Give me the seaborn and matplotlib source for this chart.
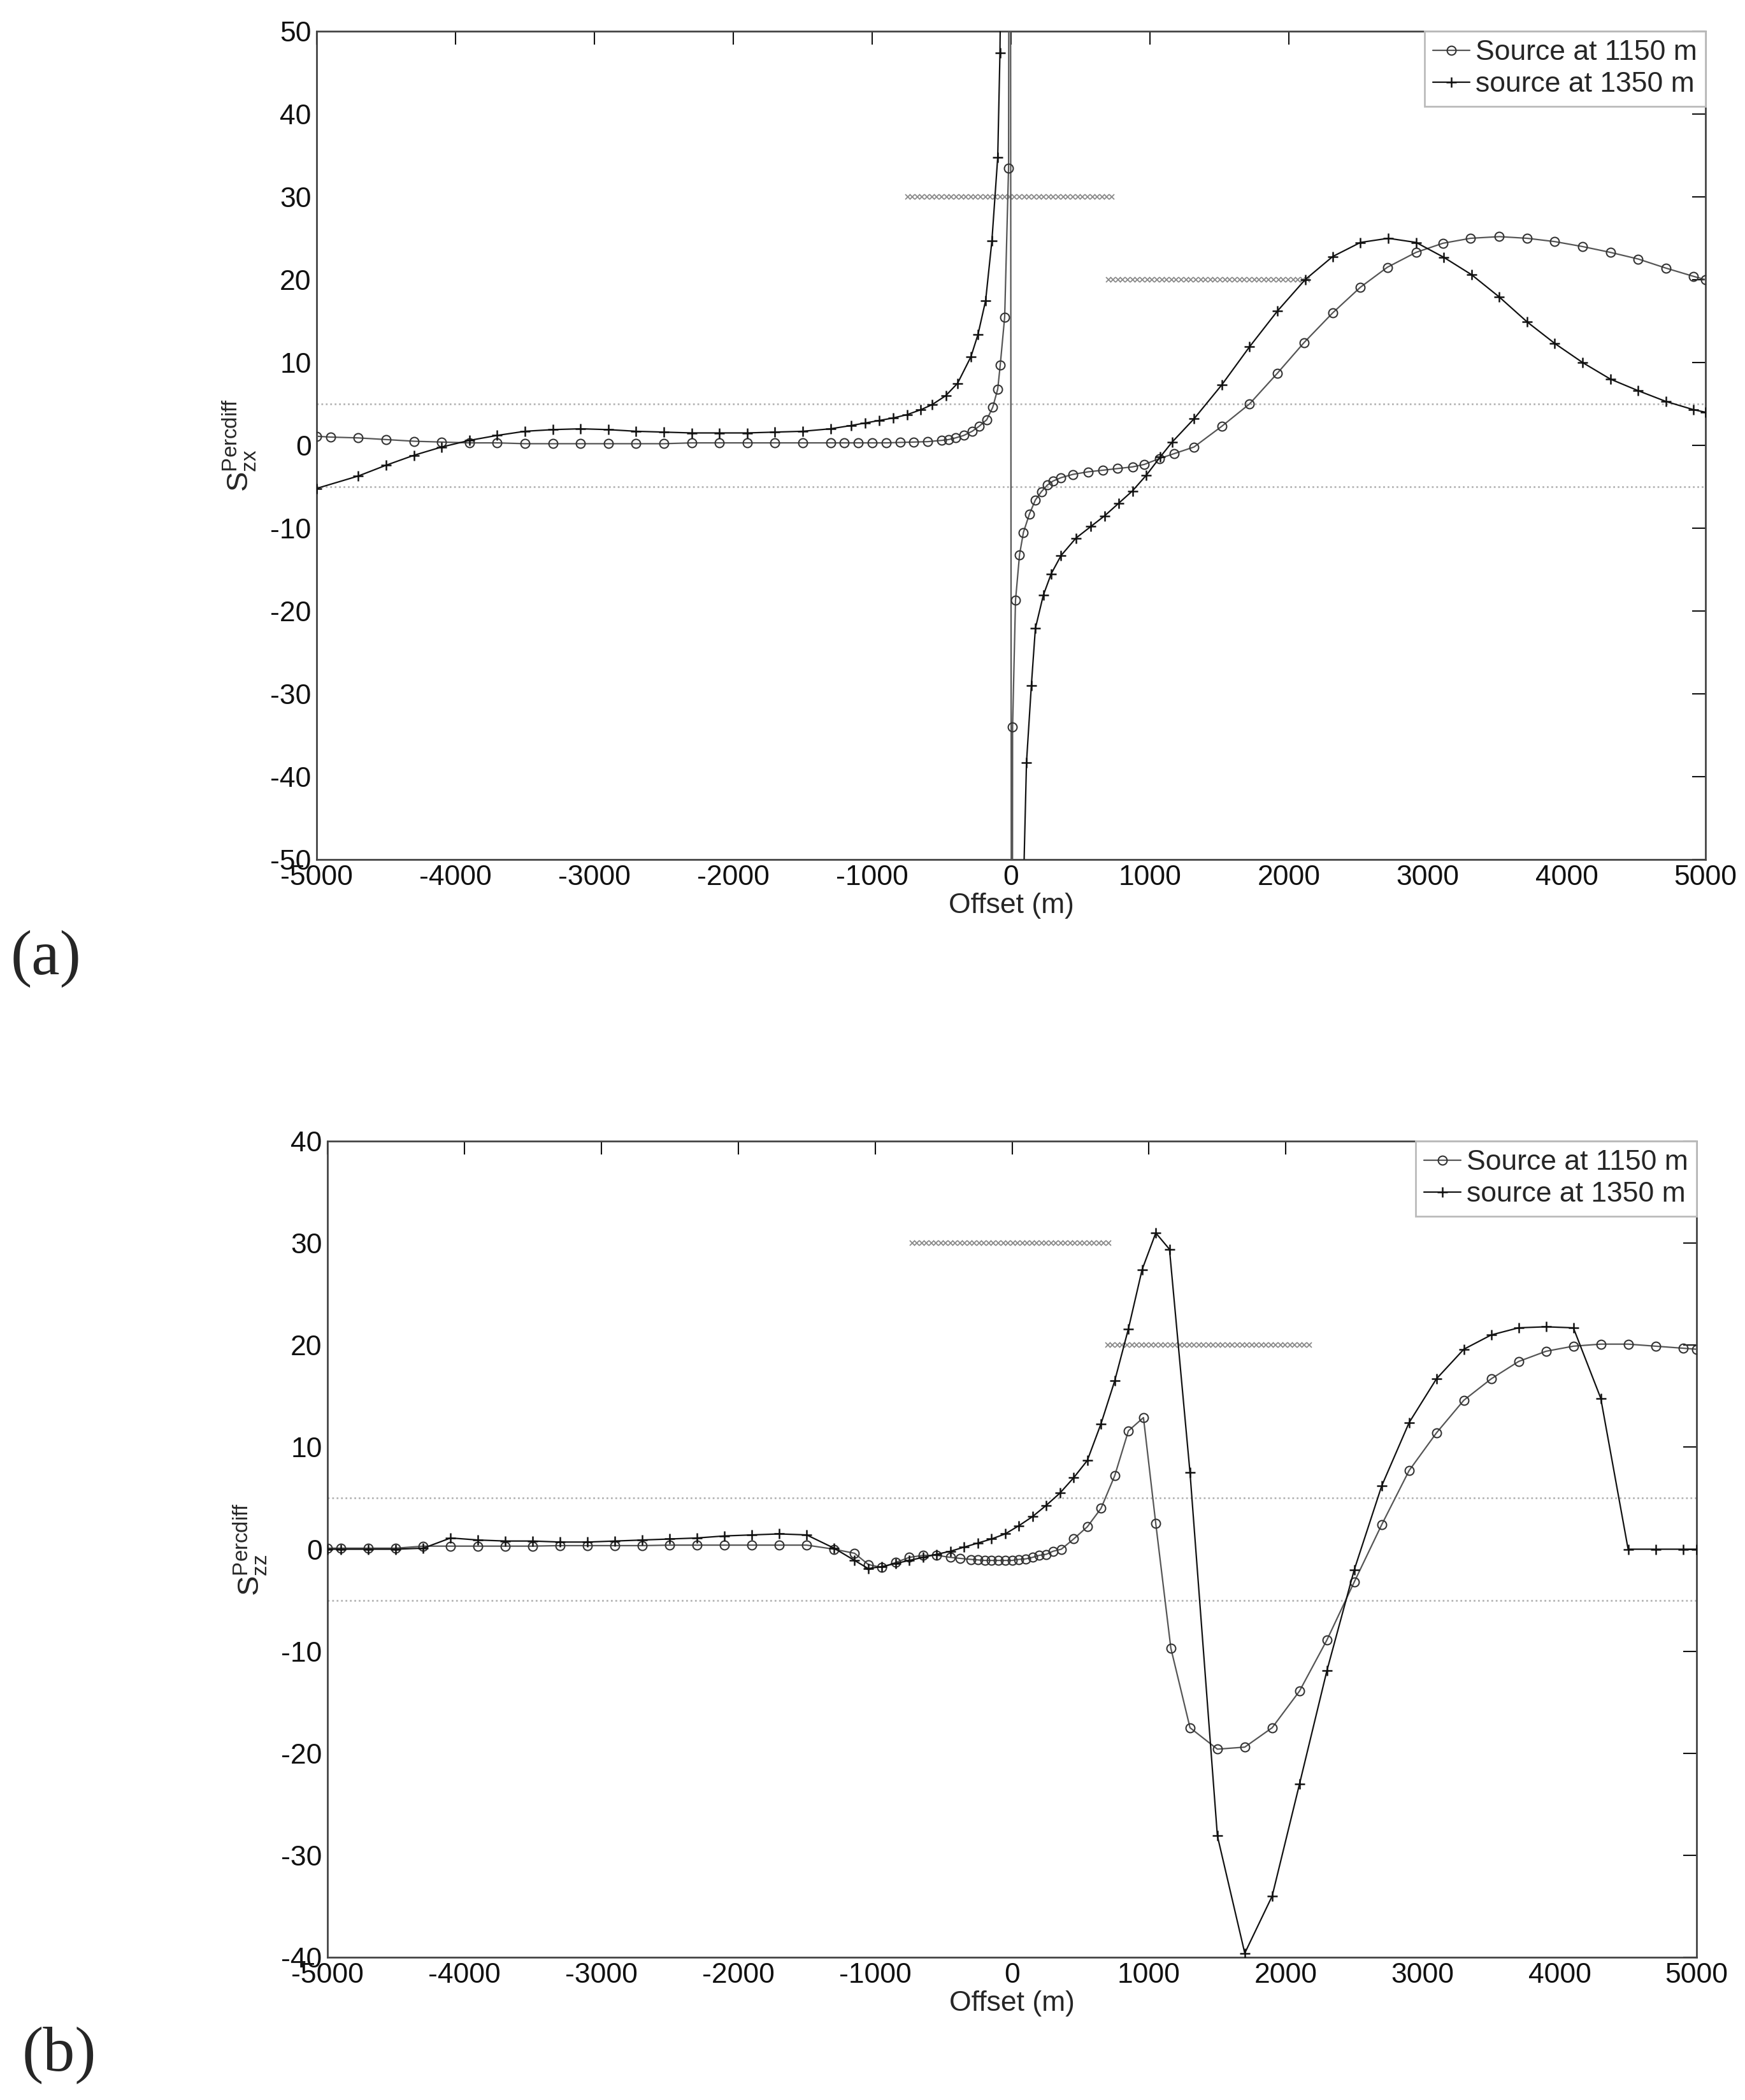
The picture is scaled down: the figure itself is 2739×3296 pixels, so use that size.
import numpy as np
import pandas as pd
import matplotlib
matplotlib.use("Agg")
import matplotlib.pyplot as plt
import seaborn as sns

# ---- data ----
# panel (a): S_zx percent difference
a_x_1150 = [-5000, -4900, -4700, -4500, -4300, -4100, -3900, -3700, -3500, -3300, -3100,
            -2900, -2700, -2500, -2300, -2100, -1900, -1700, -1500, -1300, -1200, -1100,
            -1000, -900, -800, -700, -600, -500, -450, -400, -340, -280, -230, -175, -132,
            -96, -78, -46, -18, -8, 6, 11, 32, 61, 89, 132, 175, 218, 261, 303, 360, 446,
            553, 660, 767, 874, 960, 1067, 1174, 1317, 1517, 1717, 1917, 2109, 2316, 2516,
            2709, 2916, 3109, 3308, 3516, 3716, 3915, 4115, 4315, 4515, 4715, 4915, 5000]
a_y_1150 = [1.1, 1.0, 0.9, 0.7, 0.5, 0.4, 0.3, 0.3, 0.2, 0.2, 0.2,
            0.2, 0.2, 0.2, 0.3, 0.3, 0.3, 0.3, 0.3, 0.3, 0.3, 0.3,
            0.3, 0.3, 0.35, 0.4, 0.45, 0.6, 0.7, 0.9, 1.2, 1.7, 2.3, 3.1, 4.6,
            6.8, 9.7, 15.5, 33.5, 150, -150, -34, -18.7, -13.2, -10.5, -8.3, -6.6, -5.6, -4.8, -4.3, -3.9, -3.5,
            -3.2, -3.0, -2.8, -2.6, -2.3, -1.6, -1.0, -0.2, 2.3, 5.0, 8.7, 12.4, 16.0, 19.1,
            21.5, 23.3, 24.4, 25.0, 25.2, 25.0, 24.6, 24.0, 23.3, 22.5, 21.4, 20.4, 20.0]

a_x_1350 = [-5000, -4700, -4500, -4300, -4100, -3900, -3700, -3500, -3300, -3100, -2900,
            -2700, -2500, -2300, -2100, -1900, -1700, -1500, -1300, -1150, -1050, -950,
            -850, -750, -650, -570, -470, -385, -289, -238, -183, -138, -96, -80, -60,
            40, 65, 111, 146, 175, 232, 289, 360, 467, 574, 674, 774, 874, 974, 1074,
            1160, 1317, 1517, 1717, 1917, 2117, 2316, 2516, 2716, 2916, 3116, 3316, 3516,
            3716, 3915, 4115, 4315, 4515, 4715, 4915, 5000]
a_y_1350 = [-5.2, -3.7, -2.4, -1.2, -0.2, 0.6, 1.2, 1.7, 1.9, 2.0, 1.9,
            1.7, 1.6, 1.5, 1.5, 1.5, 1.6, 1.7, 2.0, 2.4, 2.7, 3.0,
            3.3, 3.7, 4.3, 4.9, 6.0, 7.5, 10.7, 13.4, 17.5, 24.7, 34.8, 47.4, 80,
            -120, -70, -38.3, -29.0, -22.1, -18.1, -15.5, -13.3, -11.2, -9.8, -8.5, -7.0, -5.5, -3.6, -1.4,
            0.4, 3.2, 7.3, 11.9, 16.2, 20.0, 22.8, 24.5, 25.0, 24.5, 22.7, 20.6, 17.9,
            14.9, 12.3, 10.0, 8.0, 6.6, 5.3, 4.3, 4.0]

# panel (b): S_zz percent difference
b_x_1150 = [-5000, -4900, -4700, -4500, -4300, -4100, -3900, -3700, -3500, -3300, -3100,
            -2900, -2700, -2500, -2300, -2100, -1900, -1700, -1500, -1300, -1150, -1050,
            -950, -850, -750, -650, -550, -450, -380, -300, -250, -200, -150, -100, -50,
            0, 50, 100, 150, 200, 250, 300, 360, 450, 550, 650, 750, 850, 960, 1050, 1160,
            1300, 1500, 1700, 1900, 2100, 2300, 2500, 2700, 2900, 3100, 3300, 3500, 3700,
            3900, 4100, 4300, 4500, 4700, 4900, 5000]
b_y_1150 = [0.1, 0.1, 0.1, 0.1, 0.3, 0.3, 0.3, 0.3, 0.3, 0.35, 0.35,
            0.35, 0.35, 0.4, 0.4, 0.4, 0.4, 0.4, 0.4, 0.0, -0.4, -1.5,
            -1.8, -1.3, -0.8, -0.6, -0.6, -0.8, -0.9, -1.0, -1.05, -1.1, -1.1, -1.1, -1.1,
            -1.1, -1.0, -0.95, -0.8, -0.6, -0.5, -0.2, 0.0, 1.0, 2.2, 4.0, 7.2, 11.6, 12.9, 2.5, -9.7,
            -17.5, -19.6, -19.4, -17.5, -13.9, -8.9, -3.2, 2.4, 7.7, 11.4, 14.6, 16.7, 18.4,
            19.4, 19.9, 20.1, 20.1, 19.9, 19.7, 19.6]

b_x_1350 = [-5000, -4900, -4700, -4500, -4300, -4100, -3900, -3700, -3500, -3300, -3100,
            -2900, -2700, -2500, -2300, -2100, -1900, -1700, -1500, -1300, -1150, -1050,
            -950, -850, -750, -650, -550, -450, -350, -250, -150, -50, 50, 150, 250, 350,
            450, 550, 650, 750, 850, 950, 1050, 1150, 1300, 1500, 1700, 1900, 2100, 2300,
            2500, 2700, 2900, 3100, 3300, 3500, 3700, 3900, 4100, 4300, 4500, 4700, 4900, 5000]
b_y_1350 = [0.0, 0.0, 0.0, 0.0, 0.1, 1.1, 0.9, 0.8, 0.8, 0.7, 0.7,
            0.8, 0.9, 1.0, 1.1, 1.3, 1.4, 1.5, 1.4, 0.1, -1.1, -1.9,
            -1.7, -1.4, -1.1, -0.8, -0.5, -0.2, 0.2, 0.6, 1.0, 1.5, 2.3, 3.2, 4.3, 5.5,
            7.0, 8.7, 12.3, 16.5, 21.6, 27.4, 31.0, 29.4, 7.5, -28.1, -39.6, -34.0, -23.0, -11.9,
            -2.0, 6.2, 12.4, 16.7, 19.6, 21.0, 21.7, 21.8, 21.7, 14.8, 0.0, 0.0, 0.0, 0.0]

# hatched reference bands: (level, start, stop)
a_bands = [(30, -745, 735), (20, 700, 2150)]
b_bands = [(30, -730, 730), (20, 700, 2180)]
tolerance = [5, -5]

labels = ["Source at 1150 m", "source at 1350 m"]
xticks = np.arange(-5000, 5001, 1000)

sns.set_style("white")
plt.rcParams['font.family'] = ['Liberation Sans', 'DejaVu Sans']
plt.rcParams['mathtext.fontset'] = 'custom'
plt.rcParams['mathtext.rm'] = 'Liberation Sans'
plt.rcParams['axes.unicode_minus'] = False

W, H = 2739, 3296
fig = plt.figure(figsize=(W / 100, H / 100), dpi=100)
ax1 = fig.add_axes([497 / W, 1 - 1349 / H, 2180 / W, 1300 / H])
ax2 = fig.add_axes([514 / W, 1 - 3072 / H, 2149 / W, 1281 / H])

c_style = dict(color="#555555", lw=1.6, marker="o", ms=10, mfc="none", mec="#333333",
               mew=1.5, zorder=3)
p_style = dict(color="#111111", lw=1.6, marker="+", ms=12, mec="#111111", mew=1.8,
               zorder=3)


def draw_panel(ax, x1, y1, x2, y2, bands, ylim, yticks, ylab, split=False):
    for lev in tolerance:
        ax.axhline(lev, color="#b5b5b5", lw=2, ls=(0, (1, 1.5)), zorder=1)
    for lev, x0, x_end in bands:
        xs = np.arange(x0, x_end, 35)
        ax.plot(xs, np.full(len(xs), lev), ls="none", marker="x", ms=6, mew=1.3,
                color="#8a8a8a", zorder=1)
    d1 = pd.DataFrame({"x": x1, "y": y1})
    d2 = pd.DataFrame({"x": x2, "y": y2})
    sns.lineplot(data=d1, x="x", y="y", ax=ax, sort=False, estimator=None,
                 label=labels[0], **c_style)
    if split:
        # the 1350 m curve leaves the frame on both sides of the source
        left = d2[d2["x"] < 0]
        right = d2[d2["x"] > 0]
        sns.lineplot(data=left, x="x", y="y", ax=ax, sort=False, estimator=None,
                     label=labels[1], **p_style)
        sns.lineplot(data=right, x="x", y="y", ax=ax, sort=False, estimator=None,
                     **p_style)
    else:
        sns.lineplot(data=d2, x="x", y="y", ax=ax, sort=False, estimator=None,
                     label=labels[1], **p_style)
    ax.set_xlim(-5000, 5000)
    ax.set_ylim(*ylim)
    ax.set_xticks(xticks)
    ax.set_yticks(yticks)
    ax.tick_params(direction="in", top=True, right=True, length=15, width=1.5,
                   labelsize=32, pad=6, colors="#111111")
    for sp in ax.spines.values():
        sp.set_linewidth(2)
        sp.set_color("#444444")
    ax.set_xlabel("Offset (m)", fontsize=32, labelpad=2)
    ax.set_ylabel(ylab, fontsize=34, labelpad=14)
    leg = ax.legend(loc="upper right", borderaxespad=0, fontsize=32, fancybox=False,
                    handlelength=1.3, handletextpad=0.2, borderpad=0.3,
                    labelspacing=0.2, framealpha=1)
    leg.get_frame().set_edgecolor("#bbbbbb")
    leg.get_frame().set_linewidth(2)


draw_panel(ax1, a_x_1150, a_y_1150, a_x_1350, a_y_1350, a_bands, (-50, 50),
           np.arange(-50, 51, 10), r"$\mathregular{S^{Percdiff}_{zx}}$", split=True)
draw_panel(ax2, b_x_1150, b_y_1150, b_x_1350, b_y_1350, b_bands, (-40, 40),
           np.arange(-40, 41, 10), r"$\mathregular{S^{Percdiff}_{zz}}$")

fig.text(17 / W, 1 - 1505 / H, "(a)", family="Liberation Serif", fontsize=72, va="center")
fig.text(35 / W, 1 - 3226 / H, "(b)", family="Liberation Serif", fontsize=72, va="center")

fig.savefig("out.png", dpi=100, facecolor="white")
